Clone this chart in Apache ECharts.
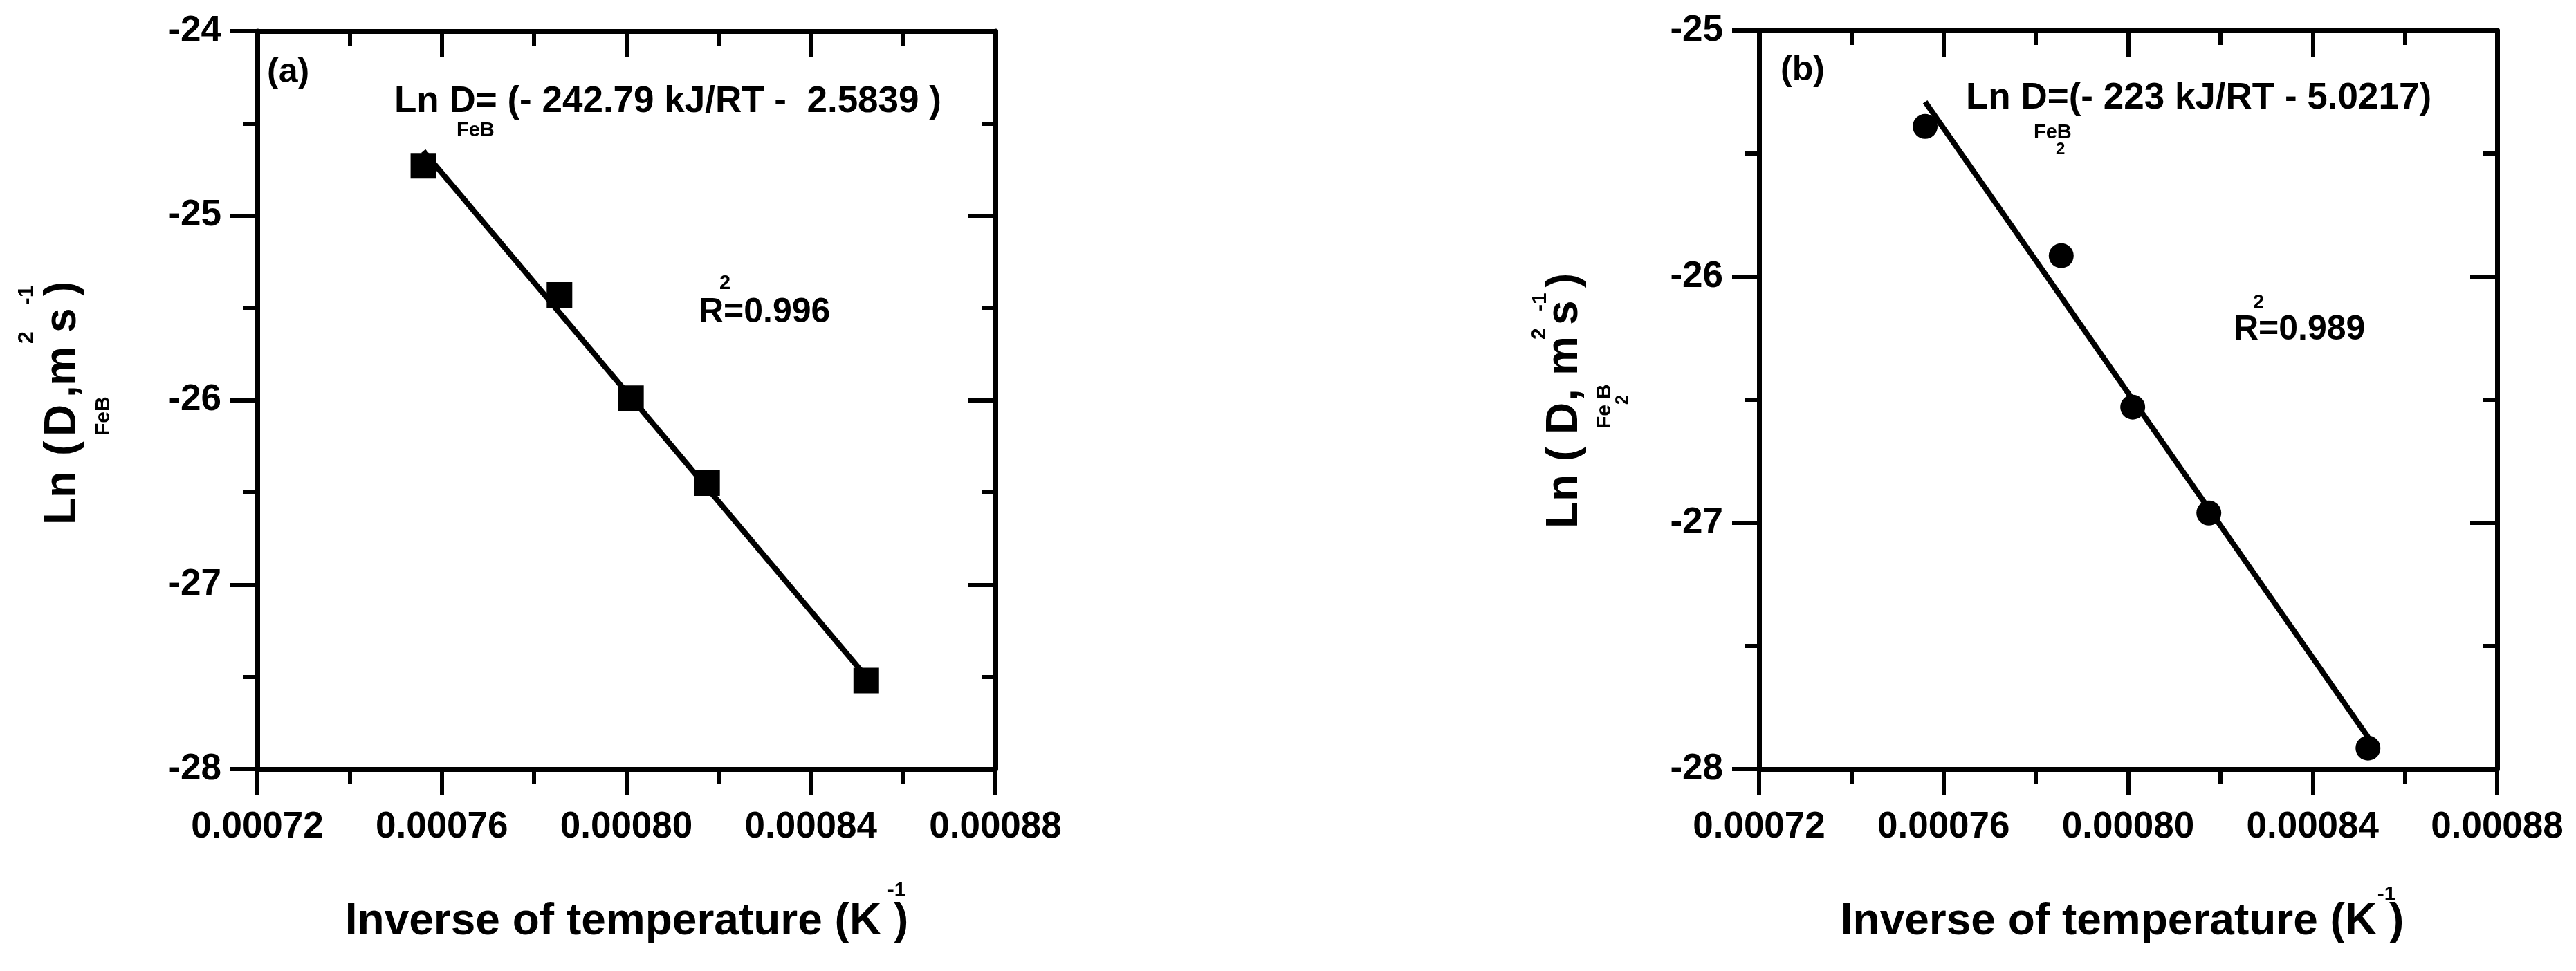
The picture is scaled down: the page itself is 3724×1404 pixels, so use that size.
<!DOCTYPE html>
<html>
<head>
<meta charset="utf-8">
<script src="https://cdn.jsdelivr.net/npm/echarts@6/dist/echarts.min.js"></script>
<style>
html,body{margin:0;padding:0;background:#fff;}
#c{width:3724px;height:1404px;}
</style>
</head>
<body>
<div id="c"></div>
<script>
// ---------------- data ----------------
const invT = [0.000756, 0.0007855, 0.000801, 0.0008175, 0.000852];      // 1/T (K^-1)
const lnD_FeB = [-24.73, -25.43, -25.99, -26.45, -27.52];               // panel (a)
const lnD_Fe2B = [-25.39, -25.915, -26.53, -26.96, -27.915];            // panel (b)
const fitX = [0.000756, 0.000852];
const fit_FeB = [-24.65, -27.50];
const fit_Fe2B = [-25.29, -27.87];
const xTickValues = [0.00072, 0.00076, 0.00080, 0.00084, 0.00088];
const yTickValuesA = [-28, -27, -26, -25, -24];
const yTickValuesB = [-28, -27, -26, -25];
const eqA = 'Ln D= (- 242.79 kJ/RT -  2.5839 )';
const eqB = 'Ln D=(- 223 kJ/RT - 5.0217)';
const r2A = 'R=0.996';
const r2B = 'R=0.989';
const xTitle = 'Inverse of temperature (K )';

// ---------------- styling ----------------
const FONT = '"Liberation Sans", Arial, Helvetica, sans-serif';
const BLACK = '#000';
const AXW = 7, TKW = 6;

function xAxisPair(gi, vals) {
  const base = {
    gridIndex: gi, type: 'value',
    min: vals[0], max: vals[vals.length - 1], interval: vals[1] - vals[0],
    splitLine: {show: false}, minorSplitLine: {show: false},
    axisLine: {show: true, onZero: false, lineStyle: {color: BLACK, width: AXW}}
  };
  return [
    Object.assign({}, base, {
      position: 'bottom',
      axisTick: {show: true, inside: false, length: 38, lineStyle: {color: BLACK, width: TKW}},
      minorTick: {show: true, splitNumber: 2, length: 21, lineStyle: {color: BLACK, width: TKW}},
      axisLabel: {show: true, margin: 58, fontSize: 53, fontWeight: 'bold', fontFamily: FONT, color: BLACK,
        formatter: v => v.toFixed(5)}
    }),
    Object.assign({}, base, {
      position: 'top',
      axisTick: {show: true, inside: true, length: 38, lineStyle: {color: BLACK, width: TKW}},
      minorTick: {show: true, splitNumber: 2, length: 21, lineStyle: {color: BLACK, width: TKW}},
      axisLabel: {show: false}
    })
  ];
}
function yAxisPair(gi, vals) {
  const base = {
    gridIndex: gi, type: 'value',
    min: vals[0], max: vals[vals.length - 1], interval: vals[1] - vals[0],
    splitLine: {show: false}, minorSplitLine: {show: false},
    axisLine: {show: true, onZero: false, lineStyle: {color: BLACK, width: AXW}}
  };
  return [
    Object.assign({}, base, {
      position: 'left',
      axisTick: {show: true, inside: false, length: 39, lineStyle: {color: BLACK, width: TKW}},
      minorTick: {show: true, splitNumber: 2, length: 20, lineStyle: {color: BLACK, width: TKW}},
      axisLabel: {show: true, margin: 52, fontSize: 53, fontWeight: 'bold', fontFamily: FONT, color: BLACK,
        formatter: v => String(Math.round(v))}
    }),
    Object.assign({}, base, {
      position: 'right',
      axisTick: {show: true, inside: true, length: 39, lineStyle: {color: BLACK, width: TKW}},
      minorTick: {show: true, splitNumber: 2, length: 20, lineStyle: {color: BLACK, width: TKW}},
      axisLabel: {show: false}
    })
  ];
}

function T(text, x, y, size, align) {
  const a = align || 'left';
  return {type: 'text', x: x, y: y, silent: true, z: 100,
    style: {text: text, fill: BLACK, fontSize: size, fontWeight: 'bold', fontFamily: FONT,
      align: a, textAlign: a, verticalAlign: 'middle', textVerticalAlign: 'middle'}};
}

const pairs = (xs, ys) => xs.map((x, i) => [x, ys[i]]);

const option = {
  backgroundColor: '#fff',
  animation: false,
  grid: [
    {left: 372, top: 45, width: 1067, height: 1067},
    {left: 2543, top: 44, width: 1067, height: 1068}
  ],
  xAxis: [].concat(xAxisPair(0, xTickValues), xAxisPair(1, xTickValues)),
  yAxis: [].concat(yAxisPair(0, yTickValuesA), yAxisPair(1, yTickValuesB)),
  series: [
    {type: 'line', xAxisIndex: 0, yAxisIndex: 0, data: pairs(fitX, fit_FeB), symbol: 'none',
      lineStyle: {color: BLACK, width: 8, opacity: 1}, z: 2},
    {type: 'scatter', xAxisIndex: 0, yAxisIndex: 0, data: pairs(invT, lnD_FeB), symbol: 'rect',
      symbolSize: 37, itemStyle: {color: BLACK, opacity: 1}, z: 3},
    {type: 'line', xAxisIndex: 2, yAxisIndex: 2, data: pairs(fitX, fit_Fe2B), symbol: 'none',
      lineStyle: {color: BLACK, width: 8, opacity: 1}, z: 2},
    {type: 'scatter', xAxisIndex: 2, yAxisIndex: 2, data: pairs(invT, lnD_Fe2B), symbol: 'circle',
      symbolSize: 36, itemStyle: {color: BLACK, opacity: 1}, z: 3}
  ],
  graphic: [
    // panel (a) annotations
    T('(a)', 386, 105, 50),
    T(eqA, 570, 147, 53),
    T('FeB', 660, 189, 29),
    T(r2A, 1010, 452, 50),
    T('2', 1040, 410, 29),
    // panel (b) annotations
    T('(b)', 2574, 102, 50),
    T(eqB, 2842, 142, 53),
    T('FeB', 2940, 192, 29),
    T('2', 2972, 216, 24),
    T(r2B, 3229, 477, 50),
    T('2', 3257, 438, 29),
    // x axis titles
    T(xTitle, 906, 1333, 64, 'center'),
    T('-1', 1296, 1288, 30, 'center'),
    T(xTitle, 3068, 1333, 64, 'center'),
    T('-1', 3450, 1294, 30, 'center'),
    // y axis title (a)
    {type: 'group', x: 91, y: 754, rotation: Math.PI / 2, children: [
      T('Ln', -5, 0, 64), T('(', 95, 0, 64), T('D', 123, 0, 64), T(',', 179, 0, 64),
      T('m', 196, 0, 64), T('s', 273, 0, 64), T(')', 326, 0, 64),
      T('FeB', 124, 59, 30), T('2', 257, -52, 32), T('-1', 313, -52, 32)
    ]},
    // y axis title (b)
    {type: 'group', x: 2262, y: 759, rotation: Math.PI / 2, children: [
      T('Ln', -5, 0, 64), T('(', 92, 0, 64), T('D', 131, 0, 64), T(',', 179, 0, 64),
      T('m', 216, 0, 64), T('s', 289, 0, 64), T(')', 343, 0, 64),
      T('Fe', 139, 58, 30), T('B', 182, 58, 30), T('2', 174, 84, 25),
      T('2', 268, -36, 30), T('-1', 309, -35, 30)
    ]}
  ]
};

const chart = echarts.init(document.getElementById('c'), null, {renderer: 'canvas', width: 3724, height: 1404});
chart.setOption(option);
</script>
</body>
</html>
